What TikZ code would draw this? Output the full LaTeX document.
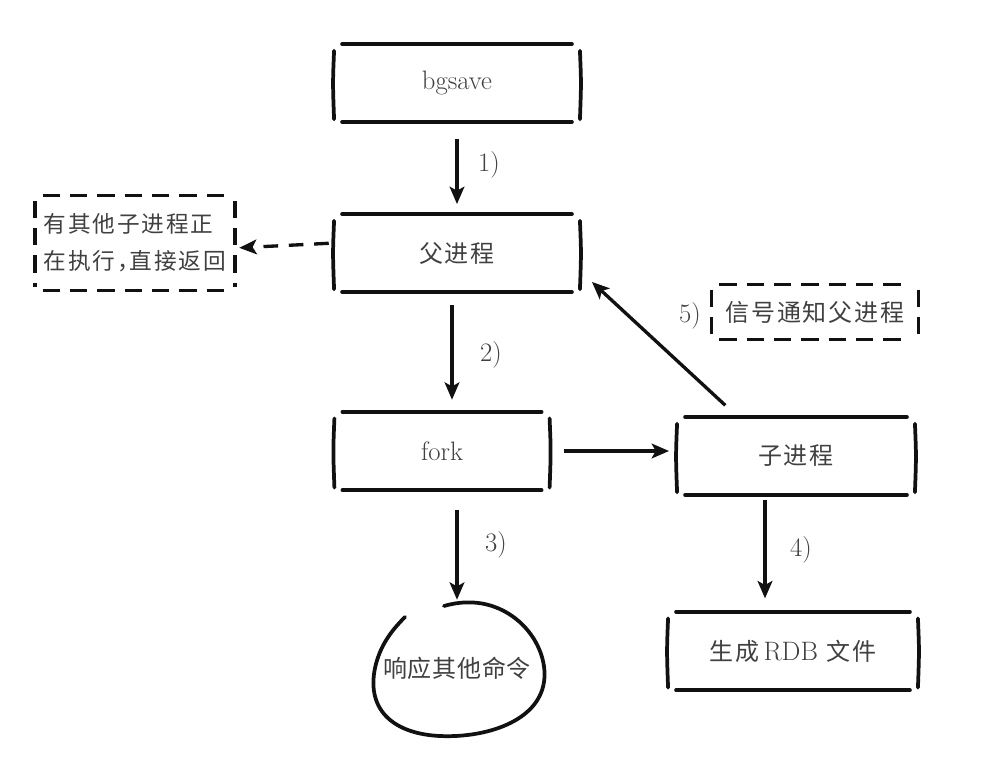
\documentclass[tikz,border=0pt]{standalone}
\usepackage{fontspec}
\newfontfamily\cjk{Noto Sans CJK SC}[LetterSpace=8]
\newfontfamily\cjkm{Noto Sans CJK SC}[LetterSpace=3]
\usetikzlibrary{arrows.meta,calc}
\definecolor{ink}{HTML}{111111}
\definecolor{txt}{HTML}{404040}
\tikzset{
  stroke/.style={ink, line width=2.8pt, line cap=round},
  dstroke/.style={ink, line width=2.8pt, dash pattern=on 13pt off 7.5pt},
  arr/.style={ink, line width=2.5pt, -{Stealth[length=13pt,width=11pt,inset=3pt]}},
  darr/.style={ink, line width=2.5pt, dash pattern=on 11pt off 8pt, -{Stealth[length=13pt,width=11pt,inset=3pt]}},
  lab/.style={txt, font=\fontsize{20}{24}\selectfont},
  boxtext/.style={txt, font=\fontsize{20}{24}\selectfont, inner sep=0pt},
}
\newcommand\cjksize{\fontsize{18}{28}\selectfont}
\newcommand\skbox[1]{%
  \draw[stroke] ([xshift=6pt]#1.north west) -- ([xshift=-6pt]#1.north east);
  \draw[stroke] ([xshift=6pt]#1.south west) -- ([xshift=-6pt]#1.south east);
  \draw[stroke] ([yshift=-5pt]#1.north west) .. controls ([xshift=-1pt]#1.west) .. ([yshift=2pt]#1.south west);
  \draw[stroke] ([yshift=-5pt]#1.north east) .. controls ([xshift=1pt]#1.east) .. ([yshift=2pt]#1.south east);
}
\newcommand\skdbox[1]{%
  \draw[dstroke] ([xshift=6pt]#1.north west) -- ([xshift=-6pt]#1.north east);
  \draw[dstroke] ([xshift=6pt]#1.south west) -- ([xshift=-6pt]#1.south east);
  \draw[dstroke] ([yshift=-4pt]#1.north west) -- ([yshift=3pt]#1.south west);
  \draw[dstroke] ([yshift=-4pt]#1.north east) -- ([yshift=3pt]#1.south east);
}
\begin{document}
\begin{tikzpicture}[x=0.75pt,y=-0.75pt]
\useasboundingbox (0,0) rectangle (981,765);

% nodes
\node[boxtext, minimum width=184pt, minimum height=58pt] (bgsave) at (457,83) {bgsave};
\node[boxtext, minimum width=184pt, minimum height=58pt] (parent) at (457,253) {\cjksize\cjk 父进程};
\node[boxtext, minimum width=161pt, minimum height=58.5pt] (fork) at (442,451) {fork};
\node[boxtext, minimum width=178pt, minimum height=58pt] (child) at (796,456) {\cjksize\cjk 子进程};
\node[boxtext, minimum width=187pt, minimum height=58.5pt] (rdb) at (793,651) {{\cjksize\cjk 生成}\,RDB\,\,{\cjksize\cjk 文件}};
\node[boxtext, minimum width=150pt, minimum height=71pt, align=left, font=\fontsize{17}{28}\selectfont\cjk] (busy) at (135,243)
  {有其他子进程正\\在执行，\kern-0.45em 直接返回};
\node[boxtext, minimum width=155pt, minimum height=41pt] (signal) at (815,312) {\cjksize\cjk 信号通知父进程};
\node[boxtext, minimum width=127pt, minimum height=102pt] (blob) at (457,668) {\cjksize\cjkm 响应其他命令};

% sketch borders
\skbox{bgsave}
\skbox{parent}
\skbox{fork}
\skbox{child}
\skbox{rdb}
\skdbox{busy}
\skdbox{signal}
\draw[stroke] (444,606) .. controls (505,588) and (550,640) .. (544,682)
  .. controls (538,722) and (485,738) .. (440,736)
  .. controls (396,734) and (366,712) .. (375,668)
  .. controls (380,645) and (392,630) .. (405,617);

% connectors
\draw[arr, shorten <=13pt, shorten >=7.5pt] (bgsave.south) -- (parent.north);
\node[lab] (l1) at (489,165) {1)};
\draw[arr, shorten <=10pt, shorten >=9pt] ([xshift=-3.75pt]parent.south) -- ([xshift=-3.75pt]parent.south |- fork.north);
\node[lab] (l2) at (491,355) {2)};
\draw[darr, shorten <=4pt, shorten >=3pt] ([yshift=7.5pt]parent.west) -- ([yshift=-3.75pt]busy.east);
\draw[arr, shorten <=11pt, shorten >=6pt] (fork.east) -- (fork.east -| child.west);
\draw[arr, shorten <=15pt, shorten >=0pt] ([xshift=11.25pt]fork.south) -- (blob.north);
\node[lab] (l3) at (496,545) {3)};
\draw[arr, shorten <=4pt, shorten >=10pt] ([xshift=-23.25pt]child.south) -- ([xshift=-23.25pt]child.south |- rdb.north);
\node[lab] (l4) at (801,550) {4)};
\draw[arr, shorten <=13pt] ([xshift=-43.5pt]child.north) -- ([xshift=9pt,yshift=7.5pt]parent.south east);
\node[lab] (l5) at (690,316) {5)};
\end{tikzpicture}
\end{document}
